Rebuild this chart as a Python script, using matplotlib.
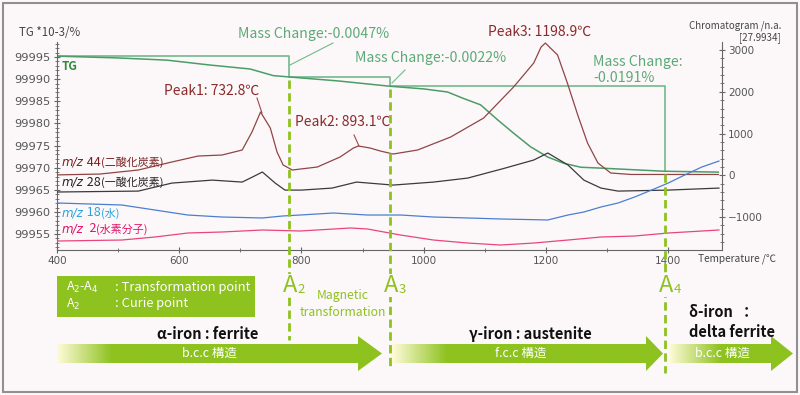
import numpy as np
import matplotlib.pyplot as plt
from matplotlib.patches import Rectangle, Polygon
from matplotlib.ticker import MultipleLocator, ScalarFormatter
from matplotlib.colors import to_rgb

plt.rcParams['font.family'] = ['Noto Sans CJK JP', 'DejaVu Sans']

# TG 曲線 (左軸, *10-3 %)
tg_temp = [400, 500, 580, 650, 716, 754, 780, 860, 945, 1000, 1039, 1064, 1093, 1121, 1147,
           1175, 1203, 1229, 1257, 1290, 1393, 1482]
tg_val = [99995.2, 99994.8, 99994.3, 99993.2, 99992.3, 99990.8, 99990.5, 99989.6, 99988.4,
          99987.8, 99987.1, 99985.7, 99984.2, 99980.8, 99977.8, 99974.7, 99972.4, 99971.0,
          99970.1, 99969.9, 99969.2, 99969.0]

# 質量変化のステップ線
step_temp = [400, 780, 780, 945, 945, 1395, 1395]
step_val = [99995.2, 99995.2, 99990.5, 99990.5, 99988.4, 99988.4, 99969.2]

# 変態点 A2, A3, A4
a_sub = ['2', '3', '4']
a_temp = [780, 945, 1395]

# MS (右軸, Chromatogram)
t44 = [400, 470, 533, 588, 631, 670, 703, 719, 733, 749, 760, 770, 785, 826, 863, 885, 893,
       912, 929, 950, 990, 1044, 1098, 1147, 1180, 1192, 1199, 1219, 1235, 1252, 1268, 1285,
       1306, 1339, 1482]
mz44 = [10, 30, 127, 319, 462, 486, 606, 1037, 1516, 1133, 558, 247, 127, 199, 438, 654, 702,
        654, 582, 510, 606, 917, 1372, 2115, 2690, 3073, 3168, 2881, 2211, 1444, 774, 295,
        55, 20, 20]

t28 = [400, 533, 588, 654, 703, 720, 736, 757, 773, 800, 850, 890, 950, 1016, 1072, 1130,
       1180, 1203, 1236, 1262, 1290, 1318, 1400, 1483]
mz28 = [-400, -378, -186, -115, -162, -40, 79, -186, -354, -354, -306, -162, -234, -162, -66,
        160, 366, 534, 247, -115, -306, -378, -354, -306]

t18 = [400, 506, 560, 614, 670, 736, 769, 798, 852, 908, 962, 1016, 1072, 1126, 1203, 1236,
       1262, 1290, 1318, 1345, 1373, 1400, 1427, 1455, 1483]
mz18 = [-663, -711, -831, -951, -999, -1022, -975, -951, -903, -951, -951, -999, -1022, -1046,
        -1070, -951, -879, -759, -663, -520, -352, -185, 7, 199, 342]

t2 = [400, 506, 560, 614, 670, 736, 798, 880, 908, 962, 1016, 1072, 1126, 1180, 1236, 1290,
      1345, 1400, 1483]
mz2 = [-1574, -1550, -1478, -1382, -1358, -1310, -1334, -1262, -1286, -1430, -1550, -1622,
       -1670, -1622, -1550, -1478, -1454, -1382, -1310]

BG = '#fcf8f9'
LIME = '#8dc21f'
W, H = 800, 395

fig = plt.figure(figsize=(8, 3.95), dpi=100, facecolor=BG)
ax = fig.add_axes([57 / W, 1 - 250 / H, 665 / W, 208 / H])
ax.set_facecolor('none')
ax2 = ax.twinx()

ax.plot(step_temp, step_val, color='#72b98c', lw=1.2)
ax.plot(tg_temp, tg_val, color='#4c9c68', lw=1.1)
ax2.plot(t44, mz44, color='#8f4545', lw=0.9)
ax2.plot(t28, mz28, color='#3a3a3a', lw=0.9)
ax2.plot(t18, mz18, color='#4a7fd0', lw=0.9)
ax2.plot(t2, mz2, color='#e8457d', lw=0.9)

ax.set_xlim(400, 1488)
ax.set_ylim(99951.4, 99998.4)
ax2.set_ylim(-1789, 3193)

for a in (ax, ax2):
    for s in a.spines.values():
        s.set_color('#666666')
    a.spines['top'].set_visible(False)
ax.spines['right'].set_visible(False)
ax2.spines['left'].set_visible(False)
ax2.spines['bottom'].set_visible(False)

ax.xaxis.set_major_locator(MultipleLocator(200))
ax.xaxis.set_minor_locator(MultipleLocator(100))
ax.yaxis.set_major_locator(MultipleLocator(5))
ax.yaxis.set_minor_locator(MultipleLocator(1))
ax.yaxis.set_major_formatter(ScalarFormatter(useOffset=False))
ax2.yaxis.set_major_locator(MultipleLocator(1000))
ax2.yaxis.set_minor_locator(MultipleLocator(200))
for a in (ax, ax2):
    a.tick_params(axis='both', which='major', direction='inout', length=5, width=0.8,
                  color='#666666', labelcolor='#555555', labelsize=7.5, pad=2)
    a.tick_params(axis='both', which='minor', direction='inout', length=2.5, width=0.6,
                  color='#666666')
for lab in ax.get_yticklabels():
    lab.set_fontsize(8.2)
for lab in ax.get_xticklabels() + ax.get_yticklabels() + ax2.get_yticklabels():
    lab.set_family('DejaVu Sans')

# 注釈用のオーバーレイ (ピクセル座標)
ov = fig.add_axes([0, 0, 1, 1])
ov.set_xlim(0, W)
ov.set_ylim(H, 0)
ov.axis('off')
ov.patch.set_visible(False)
ov.set_autoscale_on(False)
ov.set_zorder(5)

ov.add_patch(Rectangle((3, 3), 794, 389, fill=False, edgecolor='#909090', lw=1.5))

def to_px(t, v):
    return ov.transData.inverted().transform(ax.transData.transform((t, v)))

# 軸ラベル
ov.text(19, 32, 'TG *10-3/%', fontsize=8.3, color='#444444', va='center')
ov.text(781, 26, 'Chromatogram /n.a.', fontsize=7, color='#444444', va='center', ha='right')
ov.text(781, 38, '[27.9934]', fontsize=7, color='#444444', va='center', ha='right')
ov.text(698, 259, 'Temperature /℃', fontsize=7.3, color='#444444', va='center')
ov.text(62, 67, 'TG', fontsize=8.5, color='#2e8b3e', va='center', fontweight='bold')

# 質量変化
mc = '#5daa78'
ov.text(238, 34, 'Mass Change:-0.0047%', fontsize=10.2, color=mc, va='center')
ov.text(355, 58, 'Mass Change:-0.0022%', fontsize=10.2, color=mc, va='center')
ov.text(593, 62, 'Mass Change:', fontsize=10.2, color=mc, va='center')
ov.text(593, 78, '-0.0191%', fontsize=10.2, color=mc, va='center')
ov.plot([290, 333], [65, 43], color='#72b98c', lw=0.8)
ov.plot([392, 405], [83, 70], color='#72b98c', lw=0.8)

# ピーク
pc = '#8b2a2a'
ov.text(164, 91, 'Peak1: 732.8℃', fontsize=10, color=pc, va='center')
ov.text(295, 122, 'Peak2: 893.1℃', fontsize=10, color=pc, va='center')
ov.text(488, 32, 'Peak3: 1198.9℃', fontsize=10, color=pc, va='center')
ov.plot([262, 257], [113, 98], color='#a04848', lw=0.8)
ov.plot([359, 354], [146, 135], color='#a04848', lw=0.8)

# m/z ラベル
labels = [(' 44', '(二酸化炭素)', 162, '#7a1f1f'), (' 28', '(一酸化炭素)', 182, '#222222'),
          (' 18', '(水)', 213, '#29a3dc'), ('  2', '(水素分子)', 229, '#e0106a')]
for num, name, yy, c in labels:
    t = ov.text(62, yy, 'm/z', fontsize=8.6, color=c, va='center', style='italic',
                family='DejaVu Sans')
    t = ov.annotate(num, xy=(1, 0.5), xycoords=t, fontsize=9, color=c, va='center',
                    ha='left')
    ov.annotate(name, xy=(1, 0.5), xycoords=t, fontsize=7.9, color=c, va='center',
                ha='left')

# 変態点の破線
bottoms = [340, 368, 373]
for sub, t_a, yb in zip(a_sub, a_temp, bottoms):
    v = np.interp(t_a, tg_temp, tg_val)
    x_px, y_px = to_px(t_a, v)
    ov.plot([x_px, x_px], [y_px + 3, yb], color=LIME, lw=2, ls=(0, (3, 1.6)), zorder=3)
    ta = ov.text(x_px - 6, 285, 'A', fontsize=17, color=LIME, va='center', ha='left',
                 zorder=4, bbox=dict(facecolor=BG, edgecolor='none', pad=0))
    ov.annotate(sub, xy=(1, 0.32), xycoords=ta, fontsize=9.5, color=LIME, va='center',
                ha='left', zorder=4, bbox=dict(facecolor=BG, edgecolor='none', pad=0))

ov.text(343, 296, 'Magnetic', fontsize=8.8, color=LIME, va='center', ha='center')
ov.text(343, 312, 'transformation', fontsize=8.8, color=LIME, va='center', ha='center')

# 凡例ボックス
ov.add_patch(Rectangle((57, 276), 198, 41, facecolor=LIME, edgecolor='none'))
ov.text(66, 287, 'A$_2$-A$_4$', fontsize=9, color='white', va='center')
ov.text(115, 287, ': Transformation point', fontsize=9.3, color='white', va='center')
ov.text(66, 304, 'A$_2$', fontsize=9, color='white', va='center')
ov.text(115, 304, ': Curie point', fontsize=9.3, color='white', va='center')

# グラデーション矢印
pale = np.array(to_rgb('#fffbd8'))
green = np.array(to_rgb(LIME))

def grad_arrow(x0, xh, x1, fade, label):
    yc, bh, hh = 353.5, 19, 35
    pts = [(x0, yc - bh / 2), (xh, yc - bh / 2), (xh, yc - hh / 2), (x1, yc),
           (xh, yc + hh / 2), (xh, yc + bh / 2), (x0, yc + bh / 2)]
    poly = Polygon(pts, closed=True, facecolor='none', edgecolor='none')
    ov.add_patch(poly)
    xs = np.linspace(x0, x1, 400)
    f = np.clip((xs - x0) / fade, 0, 1)[:, None]
    img = pale * (1 - f) + green * f
    im = ov.imshow(img[None, :, :], extent=(x0, x1, yc + hh / 2, yc - hh / 2),
                   aspect='auto', zorder=2, interpolation='bilinear')
    im.set_clip_path(poly)
    ov.text((x0 + xh) / 2 + 2, yc, label, fontsize=9, color='white', va='center',
            ha='center', zorder=3)

grad_arrow(57, 358, 382, 55, 'b.c.c 構造')
grad_arrow(392, 646, 663, 55, 'f.c.c 構造')
grad_arrow(669, 771, 793, 52, 'b.c.c 構造')

ov.text(208, 334, 'α-iron : ferrite', fontsize=10.5, color='#111111', va='center',
        ha='center', fontweight='bold')
ov.text(530, 334, 'γ-iron : austenite', fontsize=10.5, color='#111111', va='center',
        ha='center', fontweight='bold')
ov.text(689, 312, 'δ-iron  ：', fontsize=10.5, color='#111111', va='center', fontweight='bold')
ov.text(689, 332, 'delta ferrite', fontsize=10.5, color='#111111', va='center',
        fontweight='bold')

ov.set_xlim(0, W)
ov.set_ylim(H, 0)

fig.savefig('out.png', dpi=100, facecolor=BG)
